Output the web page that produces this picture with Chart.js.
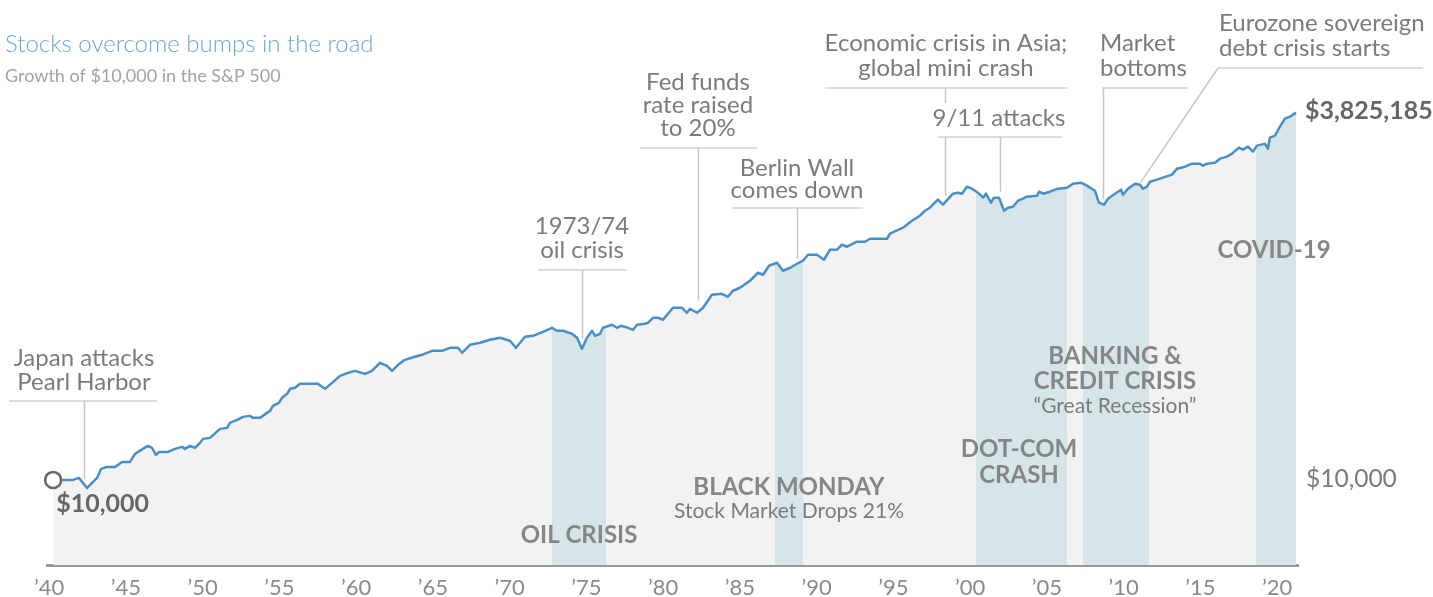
<!DOCTYPE html>
<html>
<head>
<meta charset="utf-8">
<script src="https://cdn.jsdelivr.net/npm/chart.js@4.4.1/dist/chart.umd.min.js"></script>
<style>
  html, body { margin: 0; padding: 0; background: #fff; }
</style>
</head>
<body>
<canvas id="myChart" width="1433" height="597"></canvas>
<script>
// growth of $10,000 in the S&P 500 (year, dollars)
var years = [
  1940.0, 1940.64, 1941.29, 1941.68, 1942.21, 1942.86, 1943.12, 1943.51, 1944.03, 1944.49,
  1945.01, 1945.33, 1945.85, 1946.18, 1946.44, 1946.70, 1946.90, 1947.48, 1947.94, 1948.39,
  1948.59, 1948.92, 1949.24, 1949.57, 1949.76, 1950.22, 1950.87, 1951.33, 1951.52, 1951.98,
  1952.37, 1952.82, 1953.02, 1953.48, 1953.93, 1954.13, 1954.32, 1954.71, 1954.91, 1955.24,
  1955.43, 1955.76, 1956.08, 1956.73, 1957.25, 1957.71, 1958.17, 1958.69, 1959.21, 1959.66,
  1960.32, 1960.77, 1961.29, 1961.75, 1962.08, 1962.47, 1962.92, 1963.57, 1964.03, 1964.68,
  1965.33, 1965.85, 1966.38, 1966.64, 1967.16, 1967.81, 1968.46, 1969.11, 1969.76, 1970.15,
  1970.74, 1971.26, 1971.91, 1972.50, 1972.82, 1973.22, 1973.80, 1974.13, 1974.45, 1974.78,
  1975.11, 1975.30, 1975.63, 1975.82, 1976.41, 1976.73, 1976.99, 1977.45, 1977.78, 1978.04,
  1978.56, 1978.75, 1979.08, 1979.41, 1979.73, 1980.38, 1980.97, 1981.29, 1981.49, 1981.95,
  1982.34, 1982.92, 1983.57, 1983.96, 1984.29, 1984.75, 1985.40, 1985.92, 1986.25, 1986.64,
  1987.16, 1987.55, 1988.01, 1988.46, 1988.85, 1989.18, 1989.76, 1990.22, 1990.61, 1991.07,
  1991.39, 1991.72, 1992.37, 1992.89, 1993.22, 1994.32, 1994.52, 1995.37, 1995.95, 1996.47,
  1996.80, 1997.12, 1997.64, 1997.97, 1998.62, 1998.95, 1999.21, 1999.53, 1999.86, 2000.25,
  2000.58, 2000.77, 2001.10, 2001.29, 2001.62, 2001.95, 2002.21, 2002.53, 2002.86, 2003.18,
  2003.44, 2004.10, 2004.23, 2004.49, 2004.94, 2005.46, 2006.05, 2006.44, 2006.96, 2007.35,
  2007.87, 2008.13, 2008.46, 2008.72, 2009.18, 2009.57, 2009.70, 2010.02, 2010.48, 2010.81,
  2011.00, 2011.26, 2011.46, 2011.91, 2012.30, 2012.89, 2013.22, 2013.74, 2014.19, 2014.72,
  2014.91, 2015.17, 2015.69, 2016.02, 2016.47, 2016.80, 2017.25, 2017.51, 2017.84, 2018.17,
  2018.43, 2018.95, 2019.14, 2019.27, 2019.60, 2019.92, 2020.25, 2020.58, 2020.97
];
var values = [
  10000, 10000, 10000, 10330, 8784, 10330, 11951, 12345, 12345, 13386,
  13386, 15239, 16524, 17348, 16795, 14994, 15741, 15741, 16524, 17069,
  16524, 17348, 16795, 18212, 19431, 19750, 22848, 23224, 25182, 26436,
  27752, 28207, 27308, 27308, 29611, 30586, 33169, 34820, 37760, 40286,
  43685, 44401, 47372, 47372, 47372, 43685, 48146, 53930, 56614, 58479,
  55704, 58479, 66572, 63416, 58479, 64450, 69889, 73369, 75788, 80862,
  80862, 84894, 84894, 78283, 89118, 92052, 96638, 99827, 95085, 84894,
  101450, 103113, 110013, 117390, 111810, 111810, 106505, 99827, 83522, 99827,
  111810, 103113, 106505, 117390, 123232, 117390, 121254, 117390, 113640, 123232,
  125243, 127290, 138040, 138040, 133630, 162320, 162320, 149680, 159690, 149680,
  162320, 200370, 203640, 193970, 213780, 224440, 251390, 286180, 277050, 320560,
  336510, 295600, 310340, 331110, 347600, 383090, 383090, 353270, 415420, 415420,
  450480, 436110, 472910, 472910, 496470, 496470, 538380, 593380, 664600, 720700,
  781510, 820510, 934000, 861340, 1029300, 1046200, 1029300, 1153000, 1116200, 1046200,
  964800, 1029300, 889700, 964800, 964800, 781510, 820510, 833850, 919000, 949200,
  980500, 996600, 1063300, 1029300, 1063300, 1116200, 1134500, 1210400, 1230200, 1171900,
  1080600, 889700, 861340, 949200, 1029300, 1098300, 1012800, 1116200, 1210400, 1191000,
  1116200, 1153000, 1250300, 1291500, 1334100, 1400500, 1543500, 1594300, 1673800, 1673800,
  1620400, 1673800, 1701100, 1814900, 1874700, 1968100, 2169300, 2100000, 2204600, 2032900,
  2240700, 2314400, 2134200, 2550500, 2634400, 3048600, 3470700, 3585000, 3825185
];
var tickYears = [1940, 1945, 1950, 1955, 1960, 1965, 1970, 1975, 1980, 1985, 1990, 1995, 2000, 2005, 2010, 2015, 2020];
var tickLabels = ["’40", "’45", "’50", "’55", "’60", "’65", "’70", "’75", "’80", "’85", "’90", "’95", "’00", "’05", "’10", "’15", "’20"];
// shaded crisis periods
var bandStart = [1972.50, 1987.03, 2000.12, 2007.09, 2018.37];
var bandEnd = [1976.02, 1988.85, 2006.05, 2011.39, 2021.00];

var areaGray = "#f2f2f2";
var bandTeal = "#d6e5e7";
var textGray = "#7b7b7b";
var font = "Lato, 'Open Sans', sans-serif";

var points = years.map(function (y, i) { return { x: y, y: values[i] }; });

function bandFill(context) {
  var chart = context.chart;
  var area = chart.chartArea;
  if (!area || !chart.scales.x) return areaGray;
  var xs = chart.scales.x;
  var w = area.right - area.left;
  var g = chart.ctx.createLinearGradient(area.left, 0, area.right, 0);
  g.addColorStop(0, areaGray);
  var last = 0;
  for (var i = 0; i < bandStart.length; i++) {
    var a = Math.min(Math.max((xs.getPixelForValue(bandStart[i]) - area.left) / w, 0), 1);
    var b = Math.min(Math.max((xs.getPixelForValue(bandEnd[i]) - area.left) / w, 0), 1);
    g.addColorStop(a, areaGray);
    g.addColorStop(a, bandTeal);
    g.addColorStop(b, bandTeal);
    if (b < 1) g.addColorStop(b, areaGray);
    last = b;
  }
  if (last < 1) g.addColorStop(1, areaGray);
  return g;
}

// event notes: text block, rule under it, leader down to the line
var notes = [
  { year: 1942.0, lines: ["Japan attacks", "Pearl Harbor"], cx: 84, ty: [358, 382], rule: [9, 157, 401], gap: 9 },
  { year: 1974.45, lines: ["1973/74", "oil crisis"], cx: 582, ty: [226, 250], rule: [538, 627, 270], gap: 10 },
  { year: 1982.0, lines: ["Fed funds", "rate raised", "to 20%"], cx: 698, ty: [82, 105, 128], rule: [640, 757, 148], gap: 12 },
  { year: 1988.46, lines: ["Berlin Wall", "comes down"], cx: 797, ty: [168, 190], rule: [732, 863, 208], gap: 5 },
  { year: 1998.1, lines: ["Economic crisis in Asia;", "global mini crash"], cx: 946, ty: [43, 68], rule: [825, 1067, 88], gap: 9, skip: [103, 137] },
  { year: 2001.68, lines: ["9/11 attacks"], cx: 999, ty: [118], rule: [938, 1062, 137], gap: 6 },
  { year: 2008.4, lines: ["Market", "bottoms"], left: 1100, ty: [43, 68], rule: [1102, 1188, 88], gap: 6 },
  { year: 2010.8, lines: ["Eurozone sovereign", "debt crisis starts"], left: 1219, ty: [23, 48], rule: [1218, 1423, 68], gap: 2, slant: 1218 }
];

// bold labels inside the shaded periods
var crisisLabels = [
  { lines: ["OIL CRISIS"], cx: 579, ty: [535] },
  { lines: ["BLACK MONDAY"], cx: 789, ty: [487], sub: "Stock Market Drops 21%", subY: 511 },
  { lines: ["DOT-COM", "CRASH"], cx: 1019, ty: [449, 475] },
  { lines: ["BANKING &", "CREDIT CRISIS"], cx: 1115, ty: [356, 381], sub: "“Great Recession”", subY: 406 },
  { lines: ["COVID-19"], cx: 1274, ty: [250] }
];

function lineYAt(meta, px) {
  var best = meta.data[0], d = Infinity;
  meta.data.forEach(function (p) {
    var dd = Math.abs(p.x - px);
    if (dd < d) { d = dd; best = p; }
  });
  return best.y;
}

var overlay = {
  id: "overlay",
  afterDraw: function (chart) {
    var c = chart.ctx;
    var xs = chart.scales.x, ys = chart.scales.y;
    var meta = chart.getDatasetMeta(0);
    c.save();
    c.textBaseline = "middle";

    // title
    c.textAlign = "left";
    c.fillStyle = "#6fa7cf";
    c.font = "300 24px " + font;
    c.fillText("Stocks overcome bumps in the road", 5, 44);
    c.fillStyle = "#a3a3a3";
    c.font = "18px " + font;
    c.fillText("Growth of $10,000 in the S&P 500", 5, 76);

    // notes
    notes.forEach(function (n) {
      c.font = "24px " + font;
      c.fillStyle = textGray;
      c.textAlign = n.left ? "left" : "center";
      n.lines.forEach(function (t, i) { c.fillText(t, n.left || n.cx, n.ty[i]); });
      c.strokeStyle = "#d2d2d2";
      c.lineWidth = 1.5;
      c.beginPath();
      c.moveTo(n.rule[0], n.rule[2]);
      c.lineTo(n.rule[1], n.rule[2]);
      c.stroke();
      var lx = Math.round(xs.getPixelForValue(n.year)) + 0.5;
      var ly = lineYAt(meta, lx) - n.gap;
      c.strokeStyle = "#c6c6c6";
      c.beginPath();
      if (n.slant) {
        c.moveTo(n.slant, n.rule[2]);
        c.lineTo(lx, ly);
      } else if (n.skip) {
        c.moveTo(lx, n.rule[2]);
        c.lineTo(lx, n.skip[0]);
        c.moveTo(lx, n.skip[1]);
        c.lineTo(lx, ly);
      } else {
        c.moveTo(lx, n.rule[2]);
        c.lineTo(lx, ly);
      }
      c.stroke();
    });

    // crisis labels
    crisisLabels.forEach(function (b) {
      c.textAlign = "center";
      c.fillStyle = "#868686";
      c.font = "bold 24px " + font;
      b.lines.forEach(function (t, i) { c.fillText(t, b.cx, b.ty[i]); });
      if (b.sub) {
        c.font = "21px " + font;
        c.fillStyle = textGray;
        c.fillText(b.sub, b.cx, b.subY);
      }
    });

    // start / end values
    var first = meta.data[0], last = meta.data[meta.data.length - 1];
    c.textAlign = "left";
    c.fillStyle = "#666";
    c.font = "bold 25px " + font;
    c.fillText("$10,000", first.x + 3, first.y + 24);
    c.fillText("$" + values[values.length - 1].toLocaleString("en-US"), last.x + 9, last.y - 2);
    c.font = "24.5px " + font;
    c.fillStyle = textGray;
    c.fillText("$10,000", last.x + 10, ys.getPixelForValue(10000) - 1);
    c.restore();
  }
};

new Chart(document.getElementById("myChart").getContext("2d"), {
  type: "line",
  data: {
    datasets: [{
      data: points,
      borderColor: "#4a8fc3",
      borderWidth: 2.5,
      borderJoinStyle: "round",
      tension: 0,
      fill: "start",
      backgroundColor: bandFill,
      clip: false,
      pointRadius: function (ctx) { return ctx.dataIndex === 0 ? 8 : 0; },
      pointBackgroundColor: "#fff",
      pointBorderColor: "#666",
      pointBorderWidth: 2.5
    }]
  },
  options: {
    responsive: false,
    animation: false,
    devicePixelRatio: 1,
    layout: { padding: { left: 47, right: 135, top: 10, bottom: -14 } },
    scales: {
      x: {
        type: "linear",
        min: 1939.6,
        max: 2021.1,
        afterBuildTicks: function (scale) {
          scale.ticks = tickYears.map(function (v) { return { value: v }; });
        },
        grid: { display: false, drawTicks: false },
        border: { display: true, color: "#999", width: 3 },
        ticks: {
          autoSkip: false,
          maxRotation: 0,
          padding: 12,
          labelOffset: -4,
          color: "#8a8a8a",
          font: { family: font, size: 22, lineHeight: 1 },
          callback: function (v) {
            var i = tickYears.indexOf(v);
            return i >= 0 ? tickLabels[i] : "";
          }
        }
      },
      y: {
        type: "logarithmic",
        display: false,
        min: 2522,
        max: 19980000
      }
    },
    plugins: {
      legend: { display: false },
      tooltip: { enabled: false }
    }
  },
  plugins: [overlay]
});
</script>
</body>
</html>
